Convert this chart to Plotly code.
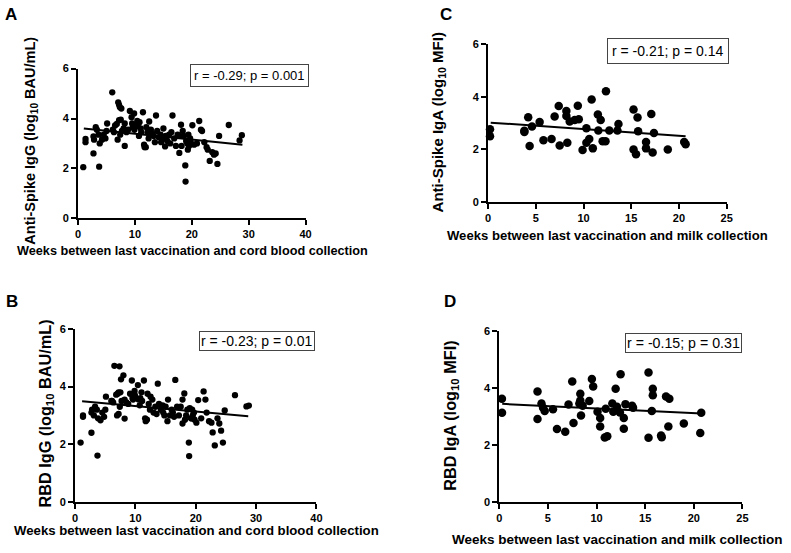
import plotly.graph_objects as go

# ---------------- DATA ----------------
# Panels A & B: weeks between last vaccination and cord blood collection
weeks_cord = [0.9, 1.3, 1.3, 2.7, 2.7, 2.8, 3.1, 3.3, 3.7, 3.6, 3.8, 4.2, 4.5, 4.8, 5.1, 5.0,
              6.0, 6.1, 6.5, 6.8, 6.95, 7.05, 7.2, 7.35, 7.6, 7.2, 7.5, 7.4, 7.7, 8.0, 8.2, 8.2,
              8.5, 8.8, 9.1, 9.4, 9.5, 9.6, 9.85, 9.9, 10.0, 10.4, 10.5, 10.8, 11.0, 11.1, 11.4,
              11.6, 11.7, 11.9, 12.0, 12.2, 12.5, 12.8, 13.0, 13.3, 13.7, 13.5, 13.9, 14.2, 14.5,
              14.8, 15.0, 15.3, 15.4, 14.6, 15.7, 16.0, 16.4, 16.6, 16.9, 17.2, 17.8, 17.8, 18.1,
              18.2, 18.4, 18.6, 18.85, 18.9, 19.0, 19.2, 19.5, 19.7, 20.1, 20.4, 19.4, 19.8, 20.9,
              21.3, 21.6, 21.8, 22.2, 22.6, 22.8, 23.15, 23.6, 23.9, 24.5, 24.8, 26.5, 28.4, 28.8,
              12.4, 10.7, 6.3, 16.2, 17.5, 19.3, 24.2]
spike_igg = [2.05, 3.18, 3.05, 2.6, 3.28, 3.15, 3.65, 3.55, 2.07, 3.35, 3.0, 3.15, 3.35, 3.2, 3.8, 3.5,
             5.05, 3.55, 3.72, 3.78, 3.15, 4.65, 4.55, 4.45, 4.4, 3.93, 3.95, 3.35, 3.5, 3.6, 2.9, 3.8,
             3.45, 3.55, 4.3, 4.05, 3.8, 3.65, 4.2, 3.55, 3.7, 3.9, 3.7, 3.85, 3.6, 3.45, 4.25,
             2.95, 2.85, 2.85, 3.65, 3.45, 3.88, 3.55, 3.4, 3.3, 4.12, 3.05, 3.5, 3.25, 3.35,
             3.15, 3.6, 2.88, 3.3, 3.05, 3.1, 3.35, 3.45, 4.12, 3.2, 2.9, 2.62, 3.3, 3.75,
             2.9, 3.5, 3.3, 2.12, 1.47, 3.1, 3.0, 2.9, 3.2, 3.73, 2.95, 3.35, 3.05, 3.0,
             3.9, 3.55, 3.5, 3.05, 2.85, 2.75, 2.3, 2.65, 2.55, 2.18, 3.3, 3.74, 3.12, 3.33,
             3.2, 3.3, 3.45, 3.0, 3.35, 2.75, 2.6]
rbd_igg = [2.06, 3.0, 2.95, 2.4, 3.1, 3.2, 3.0, 3.3, 1.61, 3.2, 2.9, 2.83, 3.1, 2.95, 3.65, 3.2,
           3.5, 3.5, 4.72, 3.72, 3.0, 3.75, 3.8, 4.7, 4.25, 3.05, 3.8, 3.3, 3.5, 4.39, 2.89, 3.55,
           3.45, 3.4, 3.75, 4.21, 3.6, 3.55, 3.85, 3.7, 3.6, 4.05, 3.55, 3.6, 3.8, 3.5, 4.21,
           2.9, 2.8, 2.85, 3.75, 3.4, 3.65, 3.55, 3.1, 3.3, 4.1, 3.05, 3.4, 3.2, 3.35,
           3.0, 3.3, 2.8, 3.55, 3.1, 3.0, 3.2, 2.95, 4.23, 3.3, 3.0, 2.72, 3.55, 3.76,
           2.85, 3.0, 3.2, 2.06, 1.59, 3.25, 2.9, 3.0, 3.1, 2.75, 3.53, 3.2, 2.85, 2.9,
           3.83, 3.55, 3.1, 2.8, 2.75, 2.41, 1.96, 2.9, 2.72, 2.06, 3.17, 3.7, 3.31, 3.34,
           3.2, 3.35, 3.45, 3.1, 3.3, 2.9, 2.47]

# Panel C: weeks between last vaccination and milk collection vs anti-spike IgA
weeks_milk_c = [0.2, 0.2, 3.8, 3.8, 4.2, 4.35, 4.6, 5.4, 5.8, 6.65, 6.97, 7.4, 7.5, 8.2, 8.2, 8.3,
                8.55, 9.07, 9.4, 9.5, 9.9, 10.3, 10.3, 10.6, 10.85, 10.97, 11.5, 11.55, 11.8, 12.0,
                12.3, 12.35, 12.7, 13.66, 13.55, 15.24, 15.24, 15.5, 15.66, 15.72, 16.55, 16.55,
                17.1, 17.24, 17.38, 18.83, 20.55, 20.7]
spike_iga = [2.76, 2.49, 2.70, 2.65, 3.22, 2.12, 2.86, 3.03, 2.34, 2.39, 3.24, 3.64, 2.14, 3.45, 3.26, 2.24,
             3.05, 3.11, 3.65, 3.14, 1.97, 2.80, 2.24, 2.39, 3.89, 2.03, 3.32, 2.71, 3.11, 2.30,
             2.30, 4.21, 2.71, 2.96, 2.71, 3.51, 1.99, 1.81, 3.21, 2.68, 2.27, 2.03,
             3.34, 1.87, 2.62, 1.99, 2.27, 2.19]

# Panel D: weeks between last vaccination and milk collection vs RBD IgA
weeks_milk_d = [0.27, 0.28, 3.93, 3.93, 4.34, 4.5, 4.67, 5.52, 5.93, 6.78, 7.5, 7.63, 7.12, 8.33, 8.33,
                8.23, 8.57, 8.4, 9.25, 9.52, 9.65, 10.1, 10.37, 10.37, 10.84, 11.1, 10.94, 11.62, 11.72,
                11.96, 12.1, 12.4, 12.47, 12.8, 12.8, 12.97, 13.65, 13.75, 15.34, 15.34, 15.68, 15.78,
                15.78, 16.63, 16.7, 17.14, 17.48, 17.38, 18.97, 20.66, 20.76]
rbd_iga = [3.62, 3.13, 3.87, 2.91, 3.45, 3.30, 3.19, 3.25, 2.56, 2.46, 4.22, 2.77, 3.42, 3.79, 3.56,
           3.45, 3.37, 3.03, 3.54, 4.31, 4.05, 3.16, 2.94, 2.65, 2.26, 2.30, 3.27, 3.45, 3.16,
           3.97, 3.34, 3.14, 4.48, 2.94, 2.57, 3.43, 3.37, 3.30, 4.54, 2.25, 3.19, 3.97,
           3.74, 2.33, 2.27, 3.70, 3.62, 2.65, 2.75, 2.42, 3.13]

# Regression line endpoints
fit_a_x, fit_a_y = [1.0, 28.9], [3.60, 2.95]
fit_b_x, fit_b_y = [1.15, 28.7], [3.49, 2.97]
fit_c_x, fit_c_y = [0.27, 20.7], [3.01, 2.49]
fit_d_x, fit_d_y = [0.3, 20.8], [3.44, 3.10]

stats_text = ["r = -0.29; p = 0.001", "r = -0.23; p = 0.01", "r = -0.21; p = 0.14", "r = -0.15; p = 0.31"]
panel_letters = ["A", "B", "C", "D"]
y_titles = ["Anti-Spike IgG (log<sub>10</sub> BAU/mL)", "RBD IgG (log<sub>10</sub> BAU/mL)",
            "Anti-Spike IgA (log<sub>10</sub> MFI)", "RBD IgA (log<sub>10</sub> MFI)"]
x_titles = ["Weeks between last vaccination and cord blood collection",
            "Weeks between last vaccination and cord blood collection",
            "Weeks between last vaccination and milk collection",
            "Weeks between last vaccination and milk collection"]
x_ticks_cord = [0, 10, 20, 30, 40]
x_ticks_milk = [0, 5, 10, 15, 20, 25]
y_ticks = [0, 2, 4, 6]

# ---------------- LAYOUT ----------------
W, H = 791, 553
FONT = "Liberation Sans, Arial, sans-serif"


def fx(p):
    return p / W


def fy(p):
    return 1 - p / H


# pixel boxes of the plot areas: (left, right, top, bottom)
boxes = [(76, 306, 64, 217), (73, 317, 330, 507), (490.7, 732, 39, 200), (502, 748, 332, 507)]
xmax = [40, 40, 25, 25]
xticks = [x_ticks_cord, x_ticks_cord, x_ticks_milk, x_ticks_milk]
marker_sizes = [6.3, 6.3, 8.5, 8.5]

series = [(weeks_cord, spike_igg, fit_a_x, fit_a_y),
          (weeks_cord, rbd_igg, fit_b_x, fit_b_y),
          (weeks_milk_c, spike_iga, fit_c_x, fit_c_y),
          (weeks_milk_d, rbd_iga, fit_d_x, fit_d_y)]

fig = go.Figure()
layout = dict(width=W, height=H, margin=dict(l=0, r=0, t=0, b=0),
              paper_bgcolor="white", plot_bgcolor="white", showlegend=False,
              font=dict(family=FONT, color="black"))

for i, (xs, ys, fxs, fys) in enumerate(series):
    n = "" if i == 0 else str(i + 1)
    xa, ya = "x" + n, "y" + n
    fig.add_trace(go.Scatter(x=xs, y=ys, mode="markers", xaxis=xa, yaxis=ya,
                             marker=dict(color="black", size=marker_sizes[i], line=dict(width=0)),
                             cliponaxis=False))
    fig.add_trace(go.Scatter(x=fxs, y=fys, mode="lines", xaxis=xa, yaxis=ya,
                             line=dict(color="black", width=2), cliponaxis=False))
    l, r, t, b = boxes[i]
    axis_common = dict(showline=True, linecolor="black", linewidth=2, ticks="outside",
                       ticklen=5, tickwidth=2, tickcolor="black", showgrid=False, zeroline=False,
                       tickfont=dict(family=FONT, size=11, color="black", weight="bold"),
                       fixedrange=True)
    layout["xaxis" + n] = dict(domain=[fx(l), fx(r)], range=[0, xmax[i]], anchor=ya,
                               tickvals=xticks[i], **axis_common)
    layout["yaxis" + n] = dict(domain=[fy(b), fy(t)], range=[0, 6], anchor=xa,
                               tickvals=y_ticks, **axis_common)

annotations = []
# panel letters
letter_pos = [(8, 9), (9, 302), (448, 9), (452, 302)]
for (px, py), letter in zip(letter_pos, panel_letters):
    annotations.append(dict(x=fx(px), y=fy(py), xref="paper", yref="paper", text=letter,
                            showarrow=False, xanchor="center", yanchor="middle",
                            font=dict(family=FONT, size=17, color="black", weight="bold")))
# y titles
ytitle_pos = [(28, 138, 14.5), (43, 417, 16.3), (440, 119, 15), (453, 419, 16.3)]
for (px, py, fs), txt in zip(ytitle_pos, y_titles):
    annotations.append(dict(x=fx(px), y=fy(py), xref="paper", yref="paper", text=txt,
                            showarrow=False, textangle=-90, xanchor="center", yanchor="middle",
                            font=dict(family=FONT, size=fs, color="black", weight="bold")))
# x titles
xtitle_pos = [(191.5, 250, 12.7), (195.5, 536, 13.2), (611, 235, 13.1), (621.5, 545, 13.5)]
for (px, py, fs), txt in zip(xtitle_pos, x_titles):
    annotations.append(dict(x=fx(px), y=fy(py), xref="paper", yref="paper", text=txt,
                            showarrow=False, xanchor="center", yanchor="middle",
                            font=dict(family=FONT, size=fs, color="black", weight="bold")))
# stats boxes
stat_pos = [(249.5, 71.5, 13, 3), (257, 342.5, 14, 1), (673, 46.5, 14, 4), (688.5, 344, 14.2, 1)]
for (px, py, fs, pad), txt in zip(stat_pos, stats_text):
    annotations.append(dict(x=fx(px), y=fy(py), xref="paper", yref="paper", text=txt,
                            showarrow=False, xanchor="center", yanchor="middle",
                            bordercolor="#444444", borderwidth=1, borderpad=pad, bgcolor="white",
                            font=dict(family=FONT, size=fs, color="black")))

layout["annotations"] = annotations
fig.update_layout(**layout)
fig.write_html("out.html", config={"displayModeBar": False},
               post_script="document.body.style.margin='0';document.body.style.padding='0';")
